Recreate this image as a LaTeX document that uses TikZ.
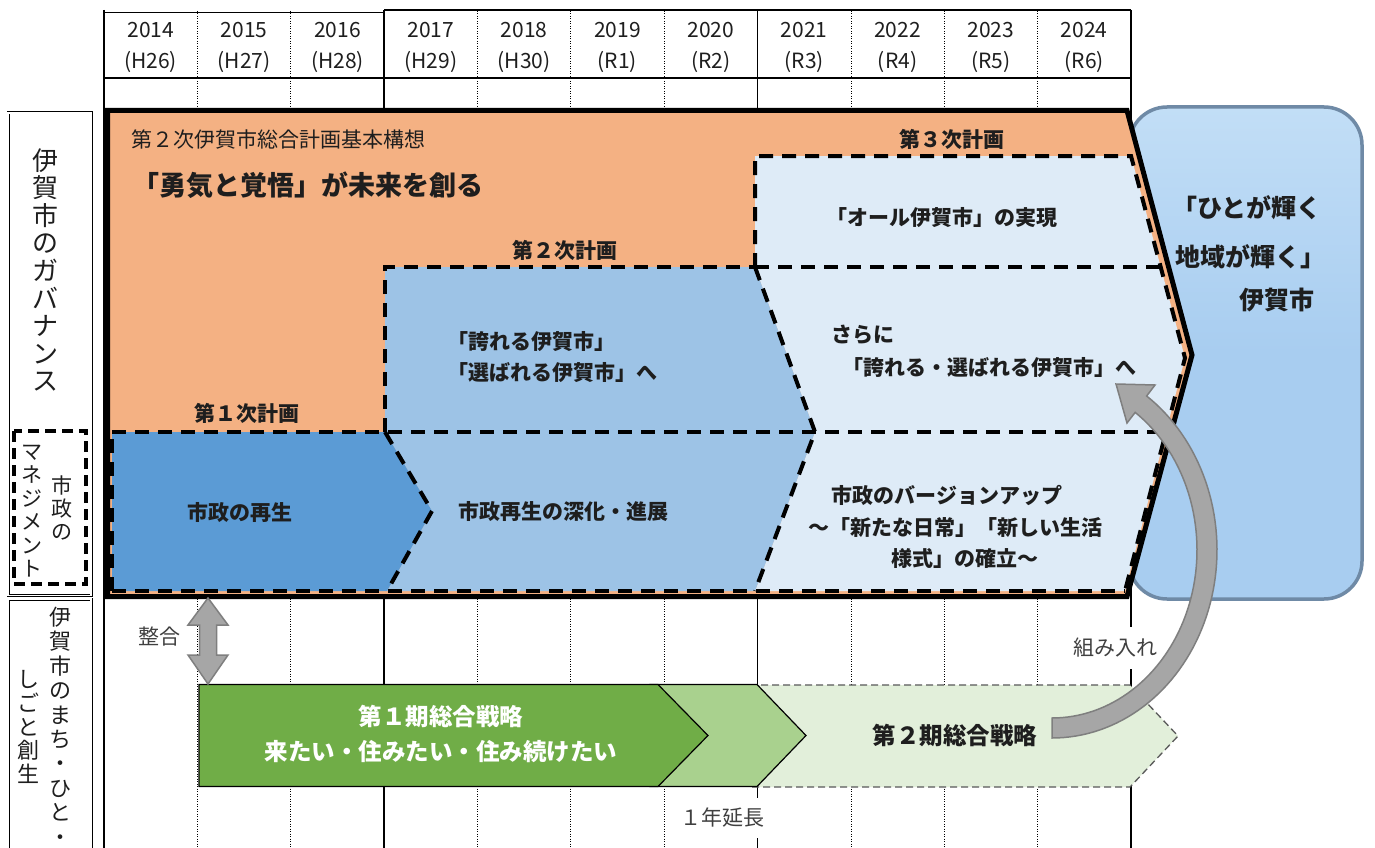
\documentclass[tikz,border=0pt]{standalone}
\usepackage{fontspec}
\setmainfont{Noto Sans CJK JP}
\definecolor{ink}{HTML}{1E1E1E}
\definecolor{txtG}{HTML}{404040}
\definecolor{orangeF}{HTML}{F4B183}
\definecolor{blueA}{HTML}{5B9BD5}
\definecolor{blueB}{HTML}{9DC3E6}
\definecolor{blueC}{HTML}{DEEBF7}
\definecolor{skyF}{HTML}{A8CDF0}
\definecolor{skyT}{HTML}{C2DEF6}
\definecolor{skyE}{HTML}{6F8AA6}
\definecolor{greenA}{HTML}{70AD47}
\definecolor{greenB}{HTML}{A9D18E}
\definecolor{greenC}{HTML}{E2EFDA}
\definecolor{arrowF}{HTML}{A6A6A6}
\definecolor{arrowE}{HTML}{7F7F7F}
\newcommand\myfs[2]{\fontsize{#1pt}{#2pt}\selectfont}
\begin{document}
\begin{tikzpicture}[x=1pt,y=-1pt,
  every node/.style={inner sep=0pt, text=ink},
  bt/.style={font=\bfseries\myfs{21}{21}},
  rt/.style={font=\myfs{21}{21}, text=txtG},
  yr/.style={font=\myfs{21}{21}, text=ink},
  gs/.style={line width=1.8pt},
  gd/.style={line width=0.8pt, dash pattern=on 1pt off 1.5pt},
  pd/.style={line width=4pt, dash pattern=on 14pt off 9pt},
  vt/.style={align=center, text=ink}
]
\fill[white] (0,0) rectangle (1375,848);
\useasboundingbox (0,0) rectangle (1375,848);

% grid
\foreach \x in {197.4,290.7,477.5,570.8,664.2,850.9,944.3,1037.6}
  \draw[gd] (\x,11) -- (\x,848);
\foreach \x in {104,384.1,757.5,1131}
  \draw[gs] (\x,10) -- (\x,848);
\draw[gs] (104,12.5) -- (384.1,12.5);
\draw[gs] (384.1,10) -- (1131,10);
\draw[gs] (104,78) -- (1131,78);

\foreach \yy/\ee [count=\i from 0] in {2014/H26,2015/H27,2016/H28,2017/H29,2018/H30,2019/R1,2020/R2,2021/R3,2022/R4,2023/R5,2024/R6} {
  \node[yr] (yr\i) at ({104+93.36*(\i+0.5)},30) {\yy};
  \node[yr] (era\i) at ({104+93.36*(\i+0.5)},62) {(\ee)};
}

% blue goal box
\draw[skyE, line width=3.5pt, top color=skyT, bottom color=skyF, middle color=skyF, rounded corners=38pt] (1129,107) rectangle (1362,599);

% orange frame
\draw[fill=orangeF, line width=5pt, line join=miter] (107.5,110.5) -- (1127,110.5) -- (1192,355) -- (1127,596.5) -- (107.5,596.5) -- cycle;

% plans fills
\fill[blueC] (755,156) -- (1131,156) -- (1185,358) -- (1125,591) -- (755,591) -- (815,432) -- (755,267) -- cycle;
\fill[blueB] (385,267) -- (755,267) -- (815,432) -- (755,591) -- (387,591) -- (432,511) -- (385,432) -- cycle;
\fill[blueA] (112,432) -- (385,432) -- (432,511) -- (387,591) -- (112,591) -- cycle;

% plans dashed borders
\draw[pd] (112,591) -- (112,432);
\draw[pd] (385,432) -- (385,267) -- (755,267);
\draw[pd] (385,432) -- (432,511) -- (387,591);
\draw[pd] (755,267) -- (815,432) -- (755,591);
\draw[pd] (755,267) -- (755,156) -- (1131,156) -- (1185,358) -- (1125,591);
\draw[pd] (112,432) -- (1167,432);
\draw[pd] (755,267) -- (1160,267);
\draw[pd] (112,591) -- (1125,591);

% texts in orange
\node[anchor=west, font=\myfs{21}{21}] (kihon) at (131,139) {第２次伊賀市総合計画基本構想};
\node[anchor=west, font=\bfseries\myfs{27}{27}] (slogan) at (132,185) {「勇気と覚悟」が未来を創る};
\node[bt] (p1t) at (247,413) {第１次計画};
\node[bt] (p2t) at (565,250) {第２次計画};
\node[bt] (p3t) at (952,139) {第３次計画};
\node[bt] (p3a) at (942,218) {「オール伊賀市」の実現};
\node[bt, anchor=west] (p2a1) at (447,342) {「誇れる伊賀市」};
\node[bt, anchor=west] (p2a2) at (447,373) {「選ばれる伊賀市」へ};
\node[bt] (p1b) at (240,513) {市政の再生};
\node[bt] (p2b) at (563,512) {市政再生の深化・進展};
\node[bt, anchor=west] (p3b1) at (831,335) {さらに};
\node[bt, anchor=west] (p3b2) at (842,368) {「誇れる・選ばれる伊賀市」へ};
\node[bt] (p3c1) at (947,495) {市政のバージョンアップ};
\node[bt] (p3c2) at (955,528) {～「新たな日常」「新しい生活};
\node[bt] (p3c3) at (965,558) {様式」の確立～};

% goal text
\node[anchor=east, font=\bfseries\myfs{25}{25}] (g1) at (1322,208) {「ひとが輝く};
\node[anchor=east, font=\bfseries\myfs{25}{25}] (g2) at (1326,257) {地域が輝く」};
\node[anchor=east, font=\bfseries\myfs{25}{25}] (g3) at (1315,300) {伊賀市};

% left label boxes
\draw[double, double distance=1.2pt, line width=0.9pt] (8,113) rectangle (91,595.5);
\draw[double, double distance=1.2pt, line width=0.9pt] (8,599) rectangle (91,880);
\draw[line width=3.5pt, dash pattern=on 11pt off 6pt] (14,431) rectangle (86,584);
\node[vt, font=\myfs{26}{27.6}] (gov) at (45,270) {伊\\賀\\市\\の\\ガ\\バ\\ナ\\ン\\ス};
\node[vt, font=\myfs{21}{23.3}] (mgA) at (62,508) {市\\政\\の};
\node[vt, font=\myfs{21}{23.5}] (mgB) at (32,511) {マ\\ネ\\ジ\\メ\\ン\\ト};
\node[vt, font=\myfs{22}{24.4}] (soA) at (60,726) {伊\\賀\\市\\の\\ま\\ち\\・\\ひ\\と\\・};
\node[vt, font=\myfs{22}{23.7}] (soB) at (28,727) {し\\ご\\と\\創\\生};

% green strategy chevrons
\draw[draw=black!65, line width=1.3pt, dash pattern=on 7pt off 4pt, fill=greenC] (750,685) -- (1130,685) -- (1178,736) -- (1130,787) -- (750,787) -- cycle;
\draw[line width=1.2pt, fill=greenB] (650,684.5) -- (757,684.5) -- (806,735.5) -- (757,786.5) -- (650,786.5) -- cycle;
\draw[line width=1.2pt, fill=greenA] (199,684.5) -- (658,684.5) -- (708,735.5) -- (658,786.5) -- (199,786.5) -- cycle;
\node[font=\bfseries\myfs{23.5}{23.5}, text=white] (s1a) at (441,716) {第１期総合戦略};
\node[font=\bfseries\myfs{23.5}{23.5}, text=white] (s1b) at (441,752) {来たい・住みたい・住み続けたい};
\node[font=\bfseries\myfs{23.5}{23.5}] (s2) at (955,735) {第２期総合戦略};

% small labels
\node[rt] (seigo) at (159,637) {整合};
\node[rt, fill=white, inner xsep=2pt, inner ysep=11pt] (kumi) at (1115,648) {組み入れ};
\node[rt, fill=white, inner xsep=2pt, inner ysep=10pt] (encho) at (722,818) {１年延長};

% double arrow (alignment)
\draw[arrowE, fill=arrowF, line width=1.5pt, line join=miter] (208,598) -- (228,625) -- (216.5,625) -- (216.5,655) -- (228,655) -- (208,684) -- (188,655) -- (199.5,655) -- (199.5,625) -- (188,625) -- cycle;

% curved arrow (incorporation)
\draw[arrowE, fill=arrowF, line width=1.5pt, line join=miter]
  plot[domain=90:-55, samples=70, variable=\t] ({1052+165*cos(\t)},{550+188*sin(\t)})
  -- (1155,385) -- (1116,384) -- (1127,423)
  -- plot[domain=-55:90, samples=70, variable=\t] ({1052+145*cos(\t)},{550+168*sin(\t)})
  -- cycle;
\end{tikzpicture}
\end{document}
